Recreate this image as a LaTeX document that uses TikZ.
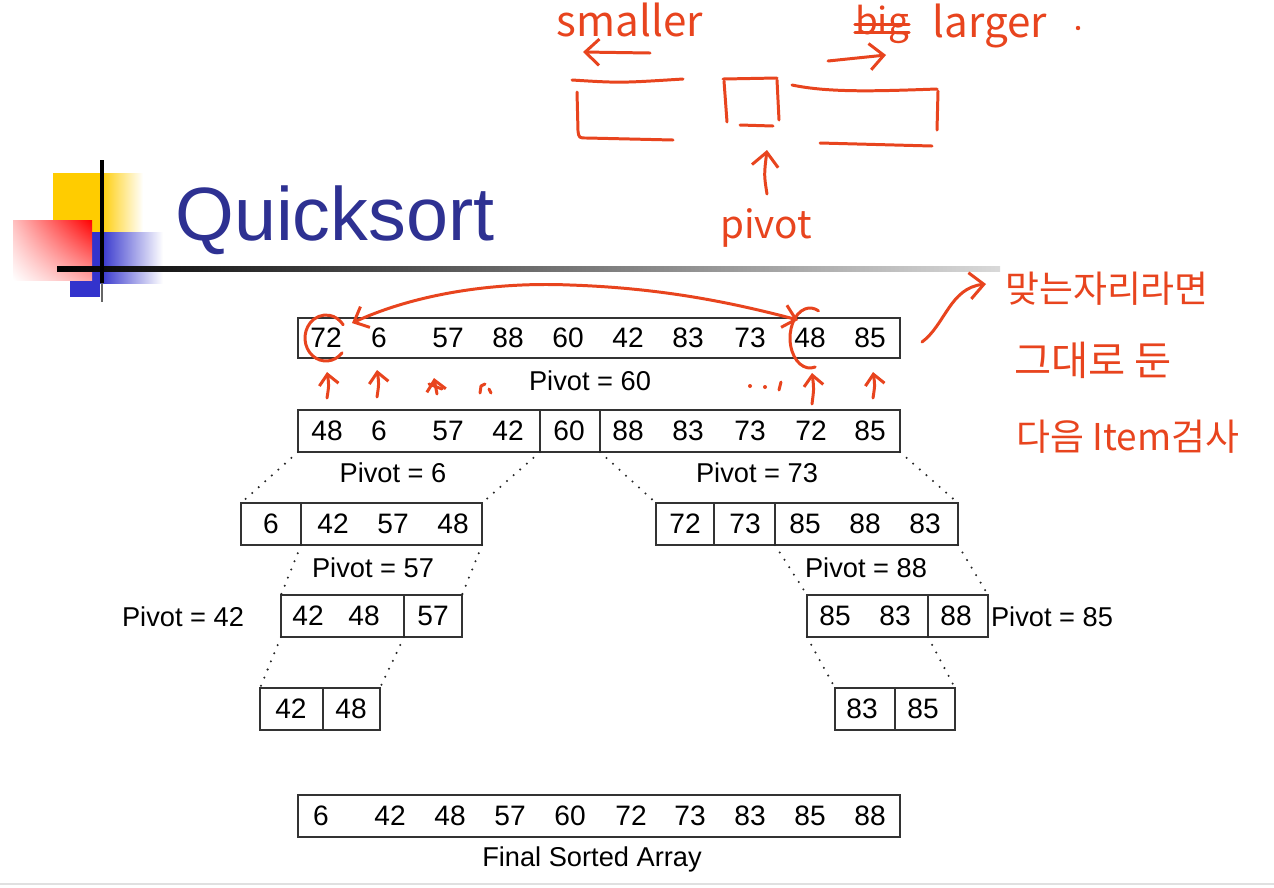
\documentclass[tikz,border=0pt]{standalone}
\usepackage{fontspec}
\setmainfont{Liberation Sans}
\newfontfamily\kr{Noto Sans CJK KR}
\usetikzlibrary{arrows.meta,shadings}
\definecolor{ink}{RGB}{232,68,30}
\definecolor{ttl}{RGB}{46,49,146}
\definecolor{ylw}{RGB}{255,204,0}
\definecolor{blu}{RGB}{51,51,204}
\newcommand\segbox[5]{\node[seg, minimum width={(#3-#2)*0.02cm}, minimum height={(#5-#4)*0.02cm}] (#1) at ({(#2+#3)/2},{(#4+#5)/2}) {};}
\begin{document}
\begin{tikzpicture}[x=0.02cm,y=-0.02cm,
 seg/.style={draw=black!80, line width=0.8pt, inner sep=0, outer sep=0, rectangle},
 num/.style={font=\fontsize{16}{16}\selectfont, inner sep=0},
 lbl/.style={font=\fontsize{15.5}{16}\selectfont, inner sep=0, anchor=base},
 dotl/.style={line width=1.3pt, dash pattern=on 0pt off 5pt, line cap=round, black!85},
 hand/.style={ink, line width=1.7pt, line cap=round, line join=round},
 htxt/.style={ink, font=\kr\fontsize{24}{24}\selectfont, inner sep=0},
 ktxt/.style={ink, font=\kr\fontsize{21}{21}\selectfont, inner sep=0},
 barb/.style={-{Straight Barb[length=6pt,width=11pt]}},
 bigbarb/.style={-{Straight Barb[length=8pt,width=15pt]}},
 bbarb/.style={{Straight Barb[length=7pt,width=13pt]}-{Straight Barb[length=7pt,width=13pt]}}
]
\useasboundingbox (0,0) rectangle (1274,887);
\fill[white] (0,0) rectangle (1274,887);

% --- title decoration ---
\fill[ylw] (53,173) rectangle (100,232);
\shade[left color=ylw, right color=white] (100,173) rectangle (143,232);
\fill[blu] (70,232) rectangle (100,297);
\shade[left color=blu, right color=white] (100,232) rectangle (163,283);
\shade[upper right=red, upper left=red!25!white, lower left=white, lower right=red!35!white] (13,220) rectangle (92,280);
\shade[left color=black, right color=white!85!black] (57,266) rectangle (1000,271);
\draw[line width=2.2pt] (102,160) -- (102,283);
\draw[line width=0.8pt, black!60] (102,283) -- (102,302);
\node[anchor=base west, font=\fontsize{43}{43}\selectfont, text=ttl, inner sep=0] (title) at (175,240) {Quicksort};

% --- boxes ---
\segbox{r1}{298}{900}{318}{358}
\segbox{r2a}{298}{540}{410}{452}
\segbox{r2b}{540}{600}{410}{452}
\segbox{r2c}{600}{900}{410}{452}
\segbox{r3a}{241}{301}{503}{545}
\segbox{r3b}{301}{482}{503}{545}
\segbox{r3c}{656}{714}{503}{545}
\segbox{r3d}{714}{775}{503}{545}
\segbox{r3e}{775}{958}{503}{545}
\segbox{r4a}{281}{404}{595}{637}
\segbox{r4b}{404}{462}{595}{637}
\segbox{r4c}{807}{928}{595}{637}
\segbox{r4d}{928}{988}{595}{637}
\segbox{r5a}{260}{323}{688}{730}
\segbox{r5b}{323}{380}{688}{730}
\segbox{r5c}{835}{895}{688}{730}
\segbox{r5d}{895}{955}{688}{730}
\segbox{rf}{298}{900}{795}{837}

% --- numbers ---
\foreach \x/\t [count=\i] in {326/72,379/6,448/57,508/88,568/60,628/42,688/83,750/73,810/48,870/85}
  \node[num] (na\i) at (\x,338) {\t};
\foreach \x/\t [count=\i] in {327/48,379/6,448/57,508/42,569/60,628/88,688/83,750/73,811/72,870/85}
  \node[num] (nb\i) at (\x,431) {\t};
\foreach \x/\t [count=\i] in {271/6,333/42,393/57,453/48}
  \node[num] (nc\i) at (\x,524) {\t};
\foreach \x/\t [count=\i] in {685/72,745/73,805/85,865/88,925/83}
  \node[num] (nd\i) at (\x,524) {\t};
\foreach \x/\t [count=\i] in {308/42,364/48,433/57}
  \node[num] (ne\i) at (\x,616) {\t};
\foreach \x/\t [count=\i] in {835/85,895/83,956/88}
  \node[num] (nf\i) at (\x,616) {\t};
\foreach \x/\t [count=\i] in {291/42,351/48}
  \node[num] (ng\i) at (\x,709) {\t};
\foreach \x/\t [count=\i] in {862/83,923/85}
  \node[num] (nh\i) at (\x,709) {\t};
\foreach \x/\t [count=\i] in {321/6,390/42,450/48,510/57,570/60,631/72,690/73,750/83,810/85,870/88}
  \node[num] (ni\i) at (\x,816) {\t};

% --- labels ---
\node[lbl] (l60) at (590,390) {Pivot = 60};
\node[lbl] (l6) at (393,482) {Pivot = 6};
\node[lbl] (l73) at (757,482) {Pivot = 73};
\node[lbl] (l57) at (373,577) {Pivot = 57};
\node[lbl] (l88) at (866,577) {Pivot = 88};
\node[lbl] (l42) at (183,626) {Pivot = 42};
\node[lbl] (l85) at (1052,626) {Pivot = 85};
\node[lbl] (lfin) at (592,866) {Final Sorted Array};

% --- dotted connectors ---
\draw[dotl] (r2a.south west) -- (r3a.north west);
\draw[dotl] (r2a.south east) -- (r3b.north east);
\draw[dotl] (r2c.south west) -- (r3c.north west);
\draw[dotl] (r2c.south east) -- (r3e.north east);
\draw[dotl] (r3b.south west) -- (r4a.north west);
\draw[dotl] (r3b.south east) -- (r4b.north east);
\draw[dotl] (r3e.south west) -- (r4c.north west);
\draw[dotl] (r3e.south east) -- (r4d.north east);
\draw[dotl] (r4a.south west) -- (r5a.north west);
\draw[dotl] (r4a.south east) -- (r5b.north east);
\draw[dotl] (r4c.south west) -- (r5c.north west);
\draw[dotl] (r4c.south east) -- (r5d.north east);

% --- handwriting at top ---
\node[htxt] (hsm) at (630,20) {smaller};
\node[htxt, font=\kr\fontsize{21}{21}\selectfont] (hbig) at (882,24) {big};
\draw[hand] (hbig.west) -- (hbig.east);
\draw[hand] ([yshift=-5pt]hbig.west) -- ([yshift=-5pt]hbig.east);
\node[htxt] (hlg) at (990,26) {larger};
\fill[ink] (1078,28) circle (2.2);
\coordinate (sa1) at (650,53); \coordinate (sa2) at (583,52);
\draw[hand,bigbarb] (sa1) -- (sa2);
\coordinate (la1) at (828,61); \coordinate (la2) at (886,55);
\draw[hand,bigbarb] (la1) -- (la2);
\draw[hand] (572,80) .. controls (620,83) .. (683,79);
\draw[hand] (577,92) -- (578,131) .. controls (579,138) .. (587,138) -- (673,140);
\draw[hand] (723,79) -- (777,78);
\draw[hand] (724,81) -- (727,122);
\draw[hand] (777,80) -- (779,120);
\draw[hand] (740,125) -- (773,126);
\draw[hand] (792,85) .. controls (830,93) and (880,91) .. (937,89);
\draw[hand] (938,91) -- (937,130);
\draw[hand] (820,143) -- (932,146);
\node[htxt, font=\kr\fontsize{22}{22}\selectfont] (hpv) at (766,228) {pivot};
\coordinate (pa1) at (767,194); \coordinate (pa2) at (767,150);
\draw[hand,bigbarb] (pa1) .. controls (764,175) .. (pa2);

% --- handwriting on row 1 ---
\coordinate (c72) at (326,338);
\coordinate (c48) at (810,338);
\draw[hand] ([shift={(40:21 and 23)}]c72) arc[start angle=40, end angle=325, x radius=21, y radius=23];
\draw[hand] ([shift={(75:20 and 30)}]c48) arc[start angle=75, end angle=295, x radius=20, y radius=30];
\coordinate (sw1) at (352,323);
\coordinate (sw2) at (798,320);
\draw[hand,bbarb] (sw1) .. controls (420,292) and (500,282) .. (570,285) .. controls (660,288) and (730,302) .. (sw2);
\foreach \x/\a/\b [count=\i] in {327/398/372,377/397/370,812/404/373,873/398/372}
  \draw[hand,barb] (\x,\a) .. controls (\x+2,{(\a+\b)/2}) .. (\x,\b);
\draw[hand,barb] (437,394) -- (434,378);
\draw[hand] (429,384) -- (442,389);
\draw[hand] (480,393) -- (481,386) -- (485,384);
\draw[hand] (489,389) -- (491,393);
\fill[ink] (750,386) circle (2); \fill[ink] (765,387) circle (2);
\draw[hand] (781,382) -- (779,390);

% --- Korean note ---
\coordinate (ka1) at (922,342); \coordinate (ka2) at (986,284);
\draw[hand,bigbarb] (ka1) .. controls (945,325) and (950,288) .. (ka2);
\node[ktxt] (k1) at (1107,289) {맞는자리라면};
\node[ktxt, font=\kr\fontsize{23}{23}\selectfont] (k2) at (1093,360) {그대로 둔};
\node[ktxt] (k3) at (1128,437) {다음 Item검사};

% --- bottom rule ---
\draw[line width=1.2pt, black!12] (0,884) -- (1274,884);
\end{tikzpicture}
\end{document}
